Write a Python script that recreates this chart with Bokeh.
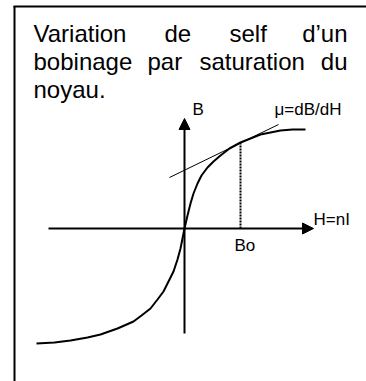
from bokeh.plotting import figure
from bokeh.models import Range1d, Arrow, NormalHead
from bokeh.core.properties import value
from bokeh.embed import file_html
from bokeh.resources import INLINE

# ---- data (H, B in drawing units, origin at axes crossing) ----
H_curve = [-148, -130, -114, -97, -84, -67, -51, -43, -34, -27, -21, -16, -11, -7, -4, 0,
           3, 6, 9, 13, 17, 23, 29, 36, 45, 56, 66, 76, 86, 96, 108, 121]
B_curve = [-115, -114, -112, -109, -106, -100, -93, -87, -80, -71, -63, -53, -43, -31, -20, 0,
           13, 25, 35, 45, 53, 61, 67, 73, 80, 86, 90, 94, 96, 98, 99, 99]
H_tangent = [-15, 94]
B_tangent = [51, 104]
H_Bo = [56, 56]
B_Bo = [86, 0]
H_axis = [-136, 129]
B_axis = [-105, 110]

title_line1 = ["Variation", "de", "self", "d\u2019un"]
title_line2 = ["bobinage", "par", "saturation", "du"]
title_line3 = ["noyau."]
label_B = "B"
label_mu = "\u03bc=dB/dH"
label_H = "H=nI"
label_Bo = "Bo"

FONT = value("Liberation Sans")
OX, OY = 184, 228  # origin position inside the figure (px)
W, Hh = 366, 381

p = figure(width=W, height=Hh, output_backend="svg", toolbar_location=None,
           x_range=Range1d(-OX, W - OX), y_range=Range1d(-(Hh - OY), OY),
           x_axis_location=None, y_axis_location=None, min_border=0)
p.outline_line_color = None
p.grid.visible = False
p.background_fill_color = "white"

# frame (left and top borders)
p.segment(x0=[-170, -171], y0=[-(Hh - OY), 222], x1=[-170, W - OX], y1=[222.5, 222],
          line_color="black", line_width=2)

# axes with arrowheads
p.add_layout(Arrow(end=NormalHead(size=11, fill_color="black", line_color="black"),
                   x_start=H_axis[0], y_start=0, x_end=H_axis[1], y_end=0,
                   line_color="black", line_width=2))
p.add_layout(Arrow(end=NormalHead(size=11, fill_color="black", line_color="black"),
                   x_start=0, y_start=B_axis[0], x_end=0, y_end=B_axis[1],
                   line_color="black", line_width=2))

# curve, tangent, dotted Bo line
p.line(H_curve, B_curve, line_color="black", line_width=2)
p.line(H_tangent, B_tangent, line_color="black", line_width=1)
p.line(H_Bo, B_Bo, line_color="black", line_width=2, line_dash="2 1")

# title (justified words)
tsize = value("24px")
p.text(x=[-151, -20, 45], y=[195.5] * 3, text=title_line1[:3], text_font=FONT,
       text_font_size=tsize, text_baseline="alphabetic", text_align="left")
p.text(x=[163], y=[195.5], text=title_line1[3:], text_font=FONT,
       text_font_size=tsize, text_baseline="alphabetic", text_align="right")
p.text(x=[-151, -37, 15], y=[167.5] * 3, text=title_line2[:3], text_font=FONT,
       text_font_size=tsize, text_baseline="alphabetic", text_align="left")
p.text(x=[163], y=[167.5], text=title_line2[3:], text_font=FONT,
       text_font_size=tsize, text_baseline="alphabetic", text_align="right")
p.text(x=[-151], y=[139.5], text=title_line3, text_font=FONT,
       text_font_size=tsize, text_baseline="alphabetic", text_align="left")

# labels
lsize = value("17px")
p.text(x=[8, 90, 129, 50], y=[119.5, 119.5, 9.5, -16.5],
       text=[label_B, label_mu, label_H, label_Bo],
       text_font=FONT, text_font_size=lsize, text_baseline="alphabetic", text_align="left")

open("out.html", "w").write(file_html(p, INLINE))
